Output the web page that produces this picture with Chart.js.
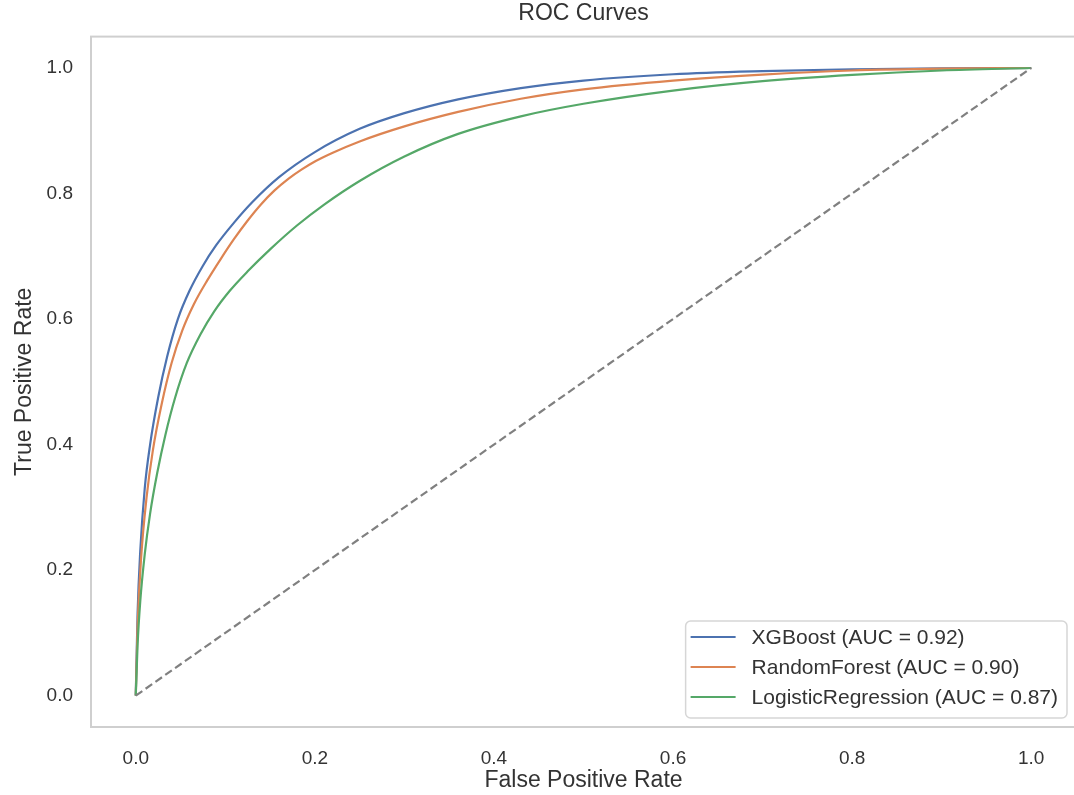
<!DOCTYPE html>
<html>
<head>
<meta charset="utf-8">
<script src="https://cdn.jsdelivr.net/npm/chart.js@4.4.1/dist/chart.umd.min.js"></script>
<style>
  html, body { margin: 0; padding: 0; background: #fff; overflow: hidden; }
  #wrap { width: 1080px; height: 795px; }
</style>
</head>
<body>
<div id="wrap"><canvas id="rocChart"></canvas></div>
<script>
// ROC curve points (false positive rate, true positive rate)
const xgbFpr = [0, 0.002, 0.005, 0.01, 0.016, 0.025, 0.035, 0.047, 0.06, 0.075, 0.09, 0.11, 0.13, 0.16, 0.2, 0.25, 0.3, 0.36, 0.43, 0.5, 0.6, 0.7, 0.8, 0.9, 1];
const xgbTpr = [0, 0.13, 0.23, 0.33, 0.40, 0.475, 0.54, 0.60, 0.645, 0.685, 0.718, 0.754, 0.786, 0.826, 0.866, 0.903, 0.928, 0.950, 0.968, 0.980, 0.990, 0.995, 0.998, 0.9995, 1];

const rfFpr = [0, 0.002, 0.006, 0.012, 0.019, 0.029, 0.04, 0.052, 0.065, 0.08, 0.095, 0.11, 0.125, 0.14, 0.155, 0.17, 0.185, 0.2, 0.22, 0.25, 0.3, 0.36, 0.43, 0.5, 0.6, 0.7, 0.8, 0.9, 1];
const rfTpr = [0, 0.11, 0.22, 0.315, 0.39, 0.465, 0.53, 0.582, 0.624, 0.662, 0.696, 0.728, 0.757, 0.783, 0.805, 0.823, 0.838, 0.851, 0.865, 0.883, 0.907, 0.930, 0.951, 0.966, 0.980, 0.9895, 0.996, 0.999, 1];

const lrFpr = [0, 0.002, 0.005, 0.01, 0.016, 0.024, 0.033, 0.044, 0.057, 0.072, 0.088, 0.105, 0.125, 0.15, 0.18, 0.21, 0.25, 0.3, 0.36, 0.43, 0.5, 0.6, 0.7, 0.8, 0.9, 1];
const lrTpr = [0, 0.08, 0.15, 0.225, 0.29, 0.355, 0.415, 0.475, 0.53, 0.575, 0.613, 0.645, 0.676, 0.711, 0.749, 0.782, 0.82, 0.859, 0.895, 0.923, 0.943, 0.964, 0.979, 0.989, 0.996, 1];

const chanceFpr = [0, 1];
const chanceTpr = [0, 1];

const modelLabels = ["XGBoost (AUC = 0.92)", "RandomForest (AUC = 0.90)", "LogisticRegression (AUC = 0.87)"];
const tickValues = [0, 0.2, 0.4, 0.6, 0.8, 1.0];

const textColor = "#333333";
const fontFamily = "'Liberation Sans', Arial, sans-serif";

function toPoints(xs, ys) {
  return xs.map((x, i) => ({ x: x, y: ys[i] }));
}

function curve(label, xs, ys, color, order) {
  return {
    label: label,
    data: toPoints(xs, ys),
    borderColor: color,
    borderWidth: 2.2,
    pointRadius: 0,
    cubicInterpolationMode: "monotone",
    fill: false,
    order: order,
  };
}

// frame around the plot area
const framePlugin = {
  id: "frame",
  afterDatasetsDraw(chart) {
    const { ctx, chartArea: a } = chart;
    ctx.save();
    ctx.strokeStyle = "#cfcfcf";
    ctx.lineWidth = 2;
    ctx.strokeRect(a.left, a.top, a.right - a.left, a.bottom - a.top);
    ctx.restore();
  },
};

// legend box in the lower right corner of the plot
const legendBoxPlugin = {
  id: "legendBox",
  afterDraw(chart) {
    const { ctx, chartArea: a } = chart;
    const items = chart.data.datasets.filter((d) => modelLabels.includes(d.label));
    ctx.save();
    ctx.font = "21px " + fontFamily;
    let maxW = 0;
    items.forEach((d) => { maxW = Math.max(maxW, ctx.measureText(d.label).width); });
    const w = 66 + maxW + 9;
    const h = 97;
    const right = a.right - 9;
    const bottom = a.bottom - 9;
    const left = right - w;
    const top = bottom - h;

    ctx.beginPath();
    ctx.roundRect(left, top, w, h, 5);
    ctx.fillStyle = "rgba(255,255,255,0.85)";
    ctx.fill();
    ctx.strokeStyle = "#d6d6d6";
    ctx.lineWidth = 1.5;
    ctx.stroke();

    items.forEach((d, i) => {
      const y = top + 16 + i * 30;
      ctx.beginPath();
      ctx.moveTo(left + 5, y);
      ctx.lineTo(left + 50, y);
      ctx.strokeStyle = d.borderColor;
      ctx.lineWidth = 2.2;
      ctx.stroke();
      ctx.fillStyle = textColor;
      ctx.textBaseline = "middle";
      ctx.textAlign = "left";
      ctx.fillText(d.label, left + 66, y + 1);
    });
    ctx.restore();
  },
};

new Chart(document.getElementById("rocChart"), {
  type: "line",
  data: {
    datasets: [
      curve(modelLabels[0], xgbFpr, xgbTpr, "#4c72b0", 4),
      curve(modelLabels[1], rfFpr, rfTpr, "#dd8452", 3),
      curve(modelLabels[2], lrFpr, lrTpr, "#55a868", 2),
      {
        label: "chance",
        data: toPoints(chanceFpr, chanceTpr),
        borderColor: "#808080",
        borderWidth: 2.2,
        borderDash: [8, 4],
        pointRadius: 0,
        fill: false,
        order: 1,
      },
    ],
  },
  options: {
    responsive: true,
    maintainAspectRatio: false,
    animation: false,
    layout: { padding: { left: 0, right: 4, top: 0, bottom: 0 } },
    plugins: {
      legend: { display: false },
      tooltip: { enabled: false },
      title: {
        display: true,
        fullSize: false,
        text: "ROC Curves",
        color: textColor,
        font: { family: fontFamily, size: 23, weight: "normal" },
        padding: { top: 0, bottom: 9 },
      },
    },
    scales: {
      x: {
        type: "linear",
        min: -0.05,
        max: 1.05,
        grid: { display: false },
        border: { display: false },
        afterBuildTicks: (s) => { s.ticks = tickValues.map((v) => ({ value: v })); },
        afterFit: (s) => { s.height = 68; },
        ticks: {
          color: textColor,
          padding: 12,
          font: { family: fontFamily, size: 19 },
          callback: (v) => Number(v).toFixed(1),
        },
        title: {
          display: true,
          text: "False Positive Rate",
          color: textColor,
          font: { family: fontFamily, size: 23 },
          padding: { top: 0, bottom: 1 },
        },
      },
      y: {
        type: "linear",
        min: -0.05,
        max: 1.05,
        grid: { display: false },
        border: { display: false },
        afterBuildTicks: (s) => { s.ticks = tickValues.map((v) => ({ value: v })); },
        afterFit: (s) => { s.width = 91; },
        ticks: {
          color: textColor,
          padding: 10,
          font: { family: fontFamily, size: 19 },
          callback: (v) => Number(v).toFixed(1),
        },
        title: {
          display: true,
          text: "True Positive Rate",
          color: textColor,
          font: { family: fontFamily, size: 23 },
          padding: { top: 11, bottom: 0 },
        },
      },
    },
  },
  plugins: [framePlugin, legendBoxPlugin],
});
</script>
</body>
</html>
